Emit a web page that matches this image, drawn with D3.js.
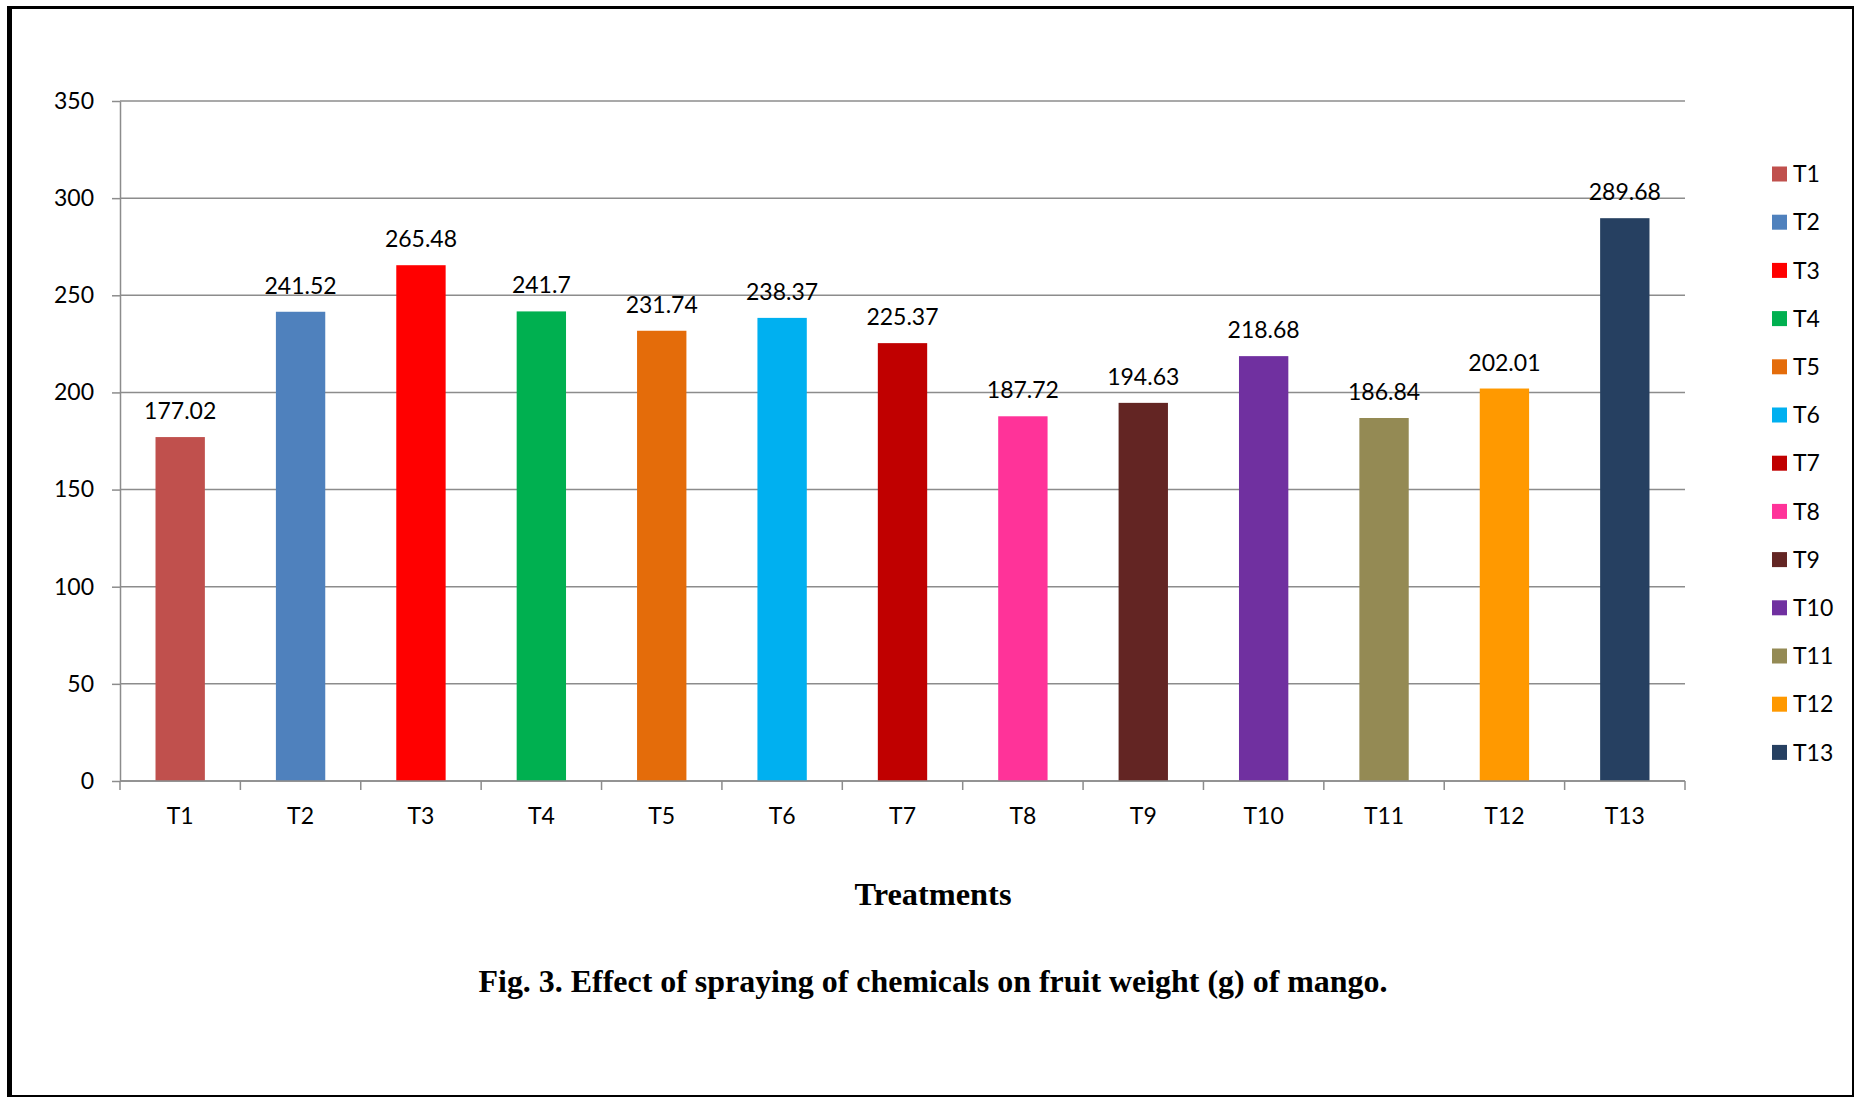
<!DOCTYPE html>
<html>
<head>
<meta charset="utf-8">
<script src="https://cdn.jsdelivr.net/npm/d3@7"></script>
<style>
  body { margin: 0; background: #fff; }
  svg { display: block; }
</style>
</head>
<body>
<svg id="chart"></svg>
<script>
const width = 1856;
const height = 1097;

// data
const treatments = ['T1', 'T2', 'T3', 'T4', 'T5', 'T6', 'T7', 'T8', 'T9', 'T10', 'T11', 'T12', 'T13'];
const fruitWeight = [177.02, 241.52, 265.48, 241.7, 231.74, 238.37, 225.37, 187.72, 194.63, 218.68, 186.84, 202.01, 289.68];
const valueLabels = ['177.02', '241.52', '265.48', '241.7', '231.74', '238.37', '225.37', '187.72', '194.63', '218.68', '186.84', '202.01', '289.68'];
const barColors = ['#C0504D', '#4F81BD', '#FF0000', '#00B050', '#E46C0A', '#00B0F0', '#C00000', '#FF3399', '#632523', '#7030A0', '#948A54', '#FF9900', '#264061'];
const yTicks = [0, 50, 100, 150, 200, 250, 300, 350];

const font = 'Lato, "Open Sans", sans-serif';
const axisGrey = '#8c8c8c';

const svg = d3.select('#chart')
  .attr('width', width)
  .attr('height', height);

// outer frame (thick on the left, like the scanned figure)
svg.append('rect').attr('x', 0).attr('y', 0).attr('width', width).attr('height', height).attr('fill', '#fff');
svg.append('line').attr('x1', 7).attr('y1', 7.5).attr('x2', 1853).attr('y2', 7.5).attr('stroke', '#000').attr('stroke-width', 3);
svg.append('line').attr('x1', 9.5).attr('y1', 6).attr('x2', 9.5).attr('y2', 1096).attr('stroke', '#000').attr('stroke-width', 5);
svg.append('line').attr('x1', 1853).attr('y1', 6).attr('x2', 1853).attr('y2', 1096).attr('stroke', '#000').attr('stroke-width', 2);
svg.append('line').attr('x1', 7).attr('y1', 1096).attr('x2', 1854).attr('y2', 1096).attr('stroke', '#000').attr('stroke-width', 2);

const plotLeft = 120, plotRight = 1685, plotTop = 101, plotBottom = 781;

const x = d3.scaleBand()
  .domain(treatments)
  .range([plotLeft, plotRight])
  .paddingInner(0.59)
  .paddingOuter(0.295);

const y = d3.scaleLinear()
  .domain([0, 350])
  .range([plotBottom, plotTop]);

// gridlines
svg.append('g')
  .selectAll('line')
  .data(yTicks)
  .enter()
  .append('line')
  .attr('x1', plotLeft)
  .attr('x2', plotRight)
  .attr('y1', d => y(d))
  .attr('y2', d => y(d))
  .attr('stroke', axisGrey)
  .attr('stroke-width', 1.5);

// y axis
const yAxis = d3.axisLeft(y)
  .tickValues(yTicks)
  .tickSizeInner(8)
  .tickSizeOuter(0)
  .tickPadding(18);

const yg = svg.append('g')
  .attr('transform', `translate(${plotLeft},0)`)
  .call(yAxis);
yg.select('.domain').attr('stroke', axisGrey).attr('stroke-width', 1.5);
yg.selectAll('.tick line').attr('stroke', axisGrey).attr('stroke-width', 1.5);
yg.selectAll('.tick text').attr('font-family', font).attr('font-size', 23).attr('fill', '#000');

// bars
svg.append('g')
  .selectAll('rect')
  .data(fruitWeight)
  .enter()
  .append('rect')
  .attr('x', (d, i) => x(treatments[i]))
  .attr('y', d => y(d))
  .attr('width', x.bandwidth())
  .attr('height', d => y(0) - y(d))
  .attr('fill', (d, i) => barColors[i]);

// x axis: labels at band centres, ticks between categories
const xAxis = d3.axisBottom(x)
  .tickSizeInner(0)
  .tickSizeOuter(0)
  .tickPadding(27);

const xg = svg.append('g')
  .attr('transform', `translate(0,${plotBottom})`)
  .call(xAxis);
xg.select('.domain').remove();
xg.selectAll('.tick text').attr('font-family', font).attr('font-size', 23).attr('fill', '#000');

xg.append('line')
  .attr('x1', plotLeft)
  .attr('x2', plotRight)
  .attr('stroke', axisGrey)
  .attr('stroke-width', 1.5);

xg.selectAll('.sep')
  .data(d3.range(treatments.length + 1))
  .enter()
  .append('line')
  .attr('class', 'sep')
  .attr('x1', i => plotLeft + i * x.step())
  .attr('x2', i => plotLeft + i * x.step())
  .attr('y1', 0)
  .attr('y2', 9)
  .attr('stroke', axisGrey)
  .attr('stroke-width', 1.5);

// value labels above bars
svg.append('g')
  .selectAll('text')
  .data(fruitWeight)
  .enter()
  .append('text')
  .attr('x', (d, i) => x(treatments[i]) + x.bandwidth() / 2)
  .attr('y', d => y(d) - 18)
  .attr('text-anchor', 'middle')
  .attr('font-family', font)
  .attr('font-size', 23)
  .attr('fill', '#000')
  .text((d, i) => valueLabels[i]);

// legend
const legend = svg.append('g')
  .selectAll('g')
  .data(treatments)
  .enter()
  .append('g')
  .attr('transform', (d, i) => `translate(1772, ${174 + i * 48.2})`);

legend.append('rect')
  .attr('x', 0)
  .attr('y', -7.5)
  .attr('width', 15)
  .attr('height', 15)
  .attr('fill', (d, i) => barColors[i]);

legend.append('text')
  .attr('x', 21)
  .attr('y', 0)
  .attr('dy', '0.36em')
  .attr('font-family', font)
  .attr('font-size', 23)
  .attr('fill', '#000')
  .text(d => d);

// axis title and caption
svg.append('text')
  .attr('x', 933)
  .attr('y', 905)
  .attr('text-anchor', 'middle')
  .attr('font-family', '"Liberation Serif", "Times New Roman", serif')
  .attr('font-weight', 'bold')
  .attr('font-size', 31)
  .attr('textLength', 157)
  .attr('lengthAdjust', 'spacingAndGlyphs')
  .text('Treatments');

svg.append('text')
  .attr('x', 933)
  .attr('y', 992)
  .attr('text-anchor', 'middle')
  .attr('font-family', '"Liberation Serif", "Times New Roman", serif')
  .attr('font-weight', 'bold')
  .attr('font-size', 31)
  .attr('textLength', 909)
  .attr('lengthAdjust', 'spacingAndGlyphs')
  .text('Fig. 3. Effect of spraying of chemicals on fruit weight (g) of mango.');
</script>
</body>
</html>
